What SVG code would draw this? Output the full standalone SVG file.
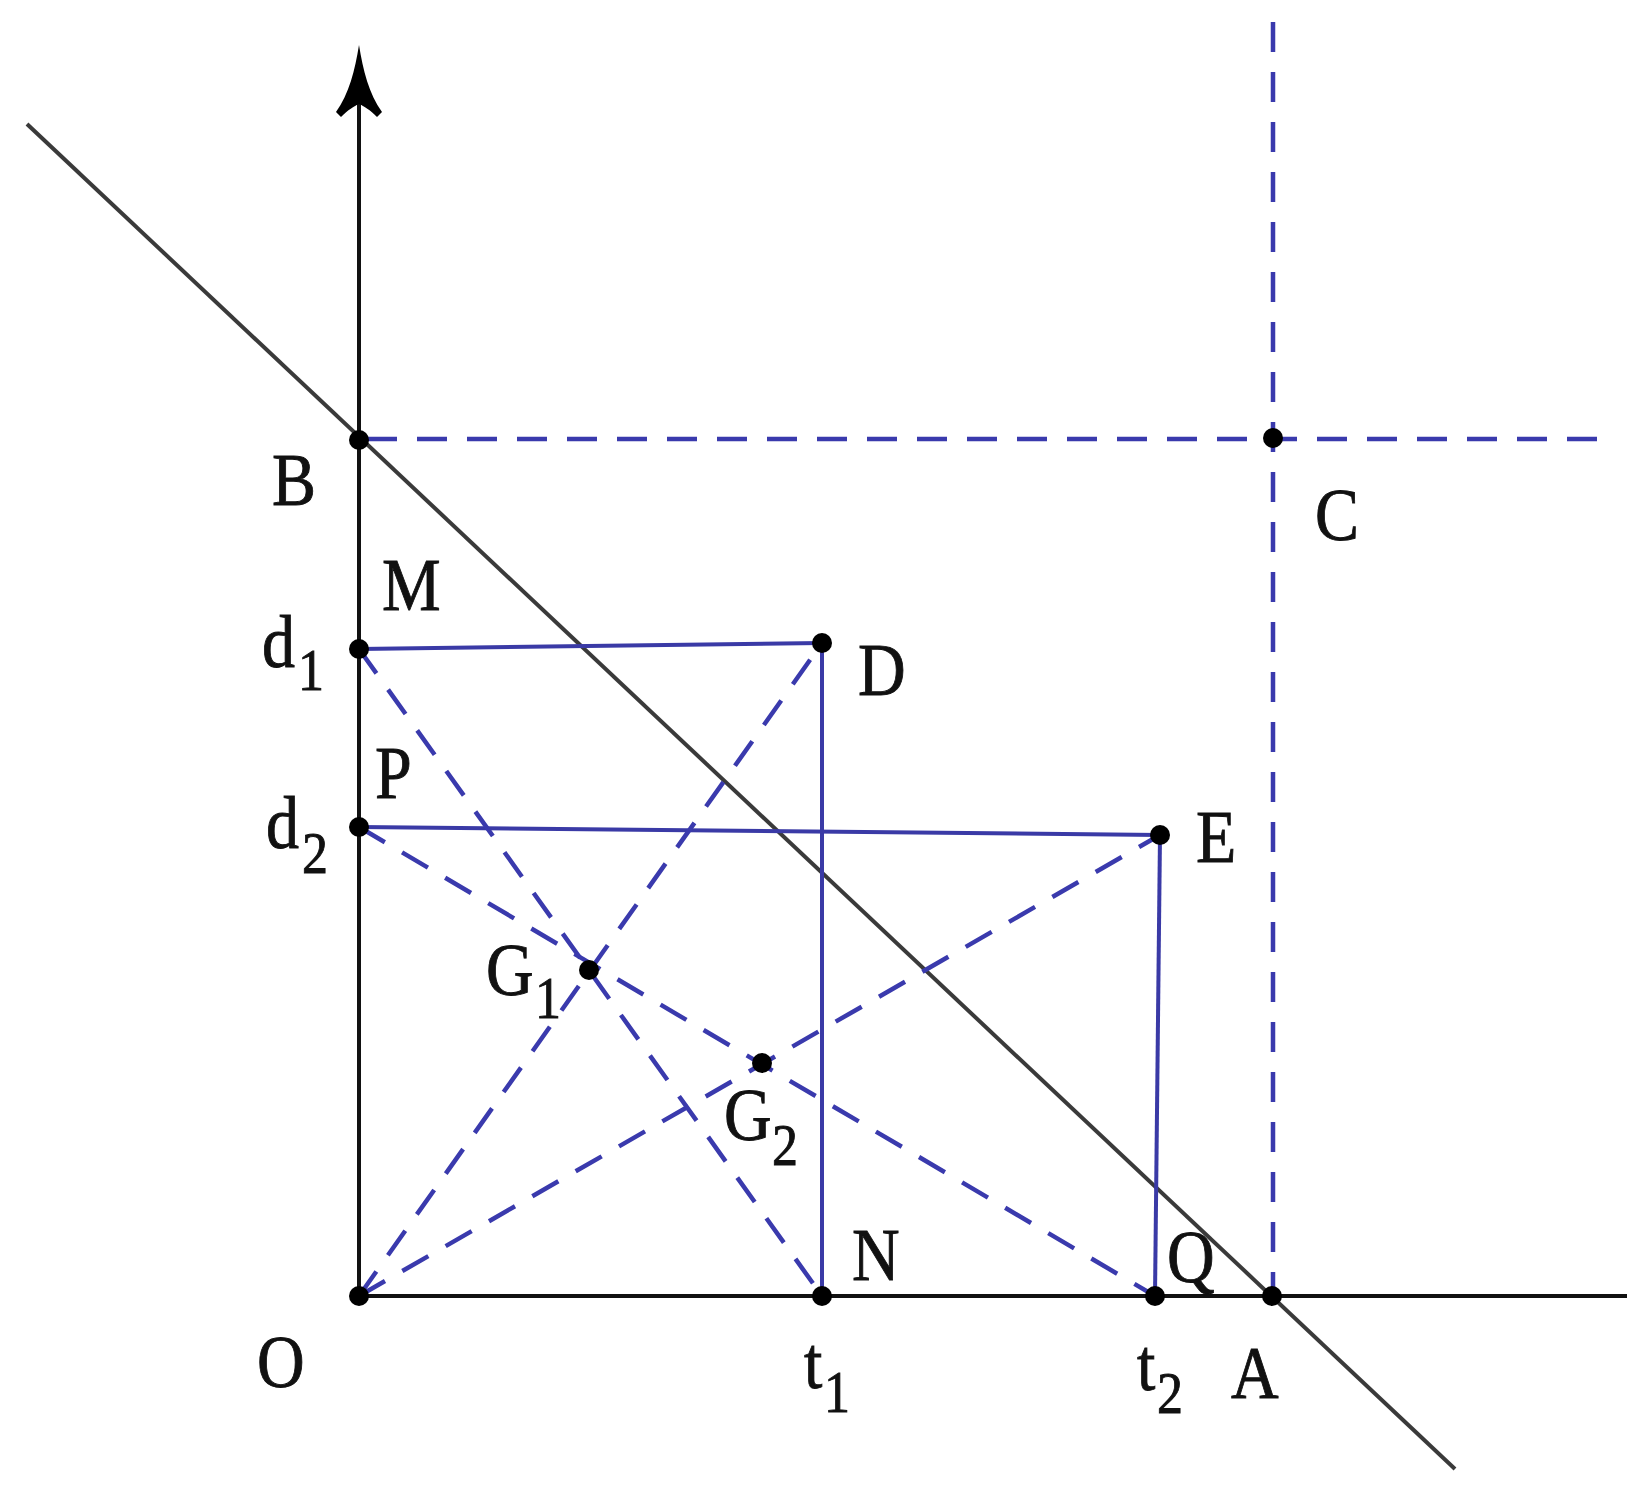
<svg xmlns="http://www.w3.org/2000/svg" width="1651" height="1491" viewBox="0 0 1651 1491">
<style>
.ax{stroke:#111;stroke-width:4;fill:none}
.diag{stroke:#3a3a3a;stroke-width:4;fill:none}
.sb{stroke:#3a3aa6;stroke-width:4;fill:none}
.db{stroke:#3a3aad;stroke-width:4.5;fill:none;stroke-dasharray:30 20}
.pt{fill:#000}
text{font-family:"Liberation Serif","Times New Roman",serif;font-size:66px;fill:#111;stroke:#111;stroke-width:0.8}
.sub{font-size:52px}
</style>
<rect width="1651" height="1491" fill="#fff"/>
<g id="connectors">
<line class="ax" x1="359" y1="1297" x2="359" y2="95"/>
<path d="M359,45 C363,70 369,94 382,112 L377,117 C370,110 364,106 359,104 C354,106 348,110 341,117 L336,112 C349,94 355,70 359,45 Z" fill="#000"/>
<line class="ax" x1="359" y1="1296" x2="1627" y2="1296"/>
<line class="diag" x1="27" y1="124" x2="1455" y2="1469"/>
<line class="db" x1="1273" y1="22" x2="1273" y2="1296"/>
<line class="db" x1="367" y1="439" x2="1617" y2="439"/>
<line class="sb" x1="359" y1="649" x2="822" y2="643"/>
<line class="sb" x1="822" y1="643" x2="822" y2="1296"/>
<line class="sb" x1="359" y1="827" x2="1160" y2="835"/>
<line class="sb" x1="1160" y1="835" x2="1155" y2="1296"/>
<line class="db" x1="359" y1="1296" x2="822" y2="643"/>
<line class="db" x1="359" y1="1296" x2="1160" y2="835"/>
<line class="db" x1="359" y1="649" x2="822" y2="1296"/>
<line class="db" x1="359" y1="827" x2="1155" y2="1296"/>
</g>
<g id="O"><circle class="pt" cx="359" cy="1296" r="10"/><text transform="translate(257,1387) scale(1,1.12)">O</text></g>
<g id="B"><circle class="pt" cx="359" cy="440" r="10"/><text transform="translate(272,505) scale(1,1.12)">B</text></g>
<g id="M"><circle class="pt" cx="359" cy="649" r="10"/><text transform="translate(382,610) scale(1,1.12)">M</text><text transform="translate(262,667) scale(1,1.12)">d</text><text class="sub" transform="translate(298,690) scale(1,1.12)">1</text></g>
<g id="P"><circle class="pt" cx="359" cy="827" r="10"/><text transform="translate(375,798) scale(1,1.12)">P</text><text transform="translate(266,848) scale(1,1.12)">d</text><text class="sub" transform="translate(302,873) scale(1,1.12)">2</text></g>
<g id="D"><circle class="pt" cx="822" cy="643" r="10"/><text transform="translate(858,695) scale(1,1.12)">D</text></g>
<g id="C"><circle class="pt" cx="1273" cy="438" r="10"/><text transform="translate(1315,540) scale(1,1.12)">C</text></g>
<g id="E"><circle class="pt" cx="1160" cy="835" r="10"/><text transform="translate(1196,862) scale(1,1.12)">E</text></g>
<g id="G1"><circle class="pt" cx="589" cy="970" r="10"/><text transform="translate(486,995) scale(1,1.12)">G</text><text class="sub" transform="translate(535,1018) scale(1,1.12)">1</text></g>
<g id="G2"><circle class="pt" cx="762" cy="1063" r="10"/><text transform="translate(724,1140) scale(1,1.12)">G</text><text class="sub" transform="translate(772,1165) scale(1,1.12)">2</text></g>
<g id="N"><circle class="pt" cx="822" cy="1296" r="10"/><text transform="translate(852,1280) scale(1,1.12)">N</text><text transform="translate(804,1388) scale(1,1.12)">t</text><text class="sub" transform="translate(824,1412) scale(1,1.12)">1</text></g>
<g id="Q"><circle class="pt" cx="1155" cy="1296" r="10"/><text transform="translate(1167,1282) scale(1,1.12)">Q</text><text transform="translate(1137,1390) scale(1,1.12)">t</text><text class="sub" transform="translate(1157,1413) scale(1,1.12)">2</text></g>
<g id="A"><circle class="pt" cx="1272" cy="1296" r="10"/><text transform="translate(1231,1398) scale(1,1.12)">A</text></g>
</svg>
